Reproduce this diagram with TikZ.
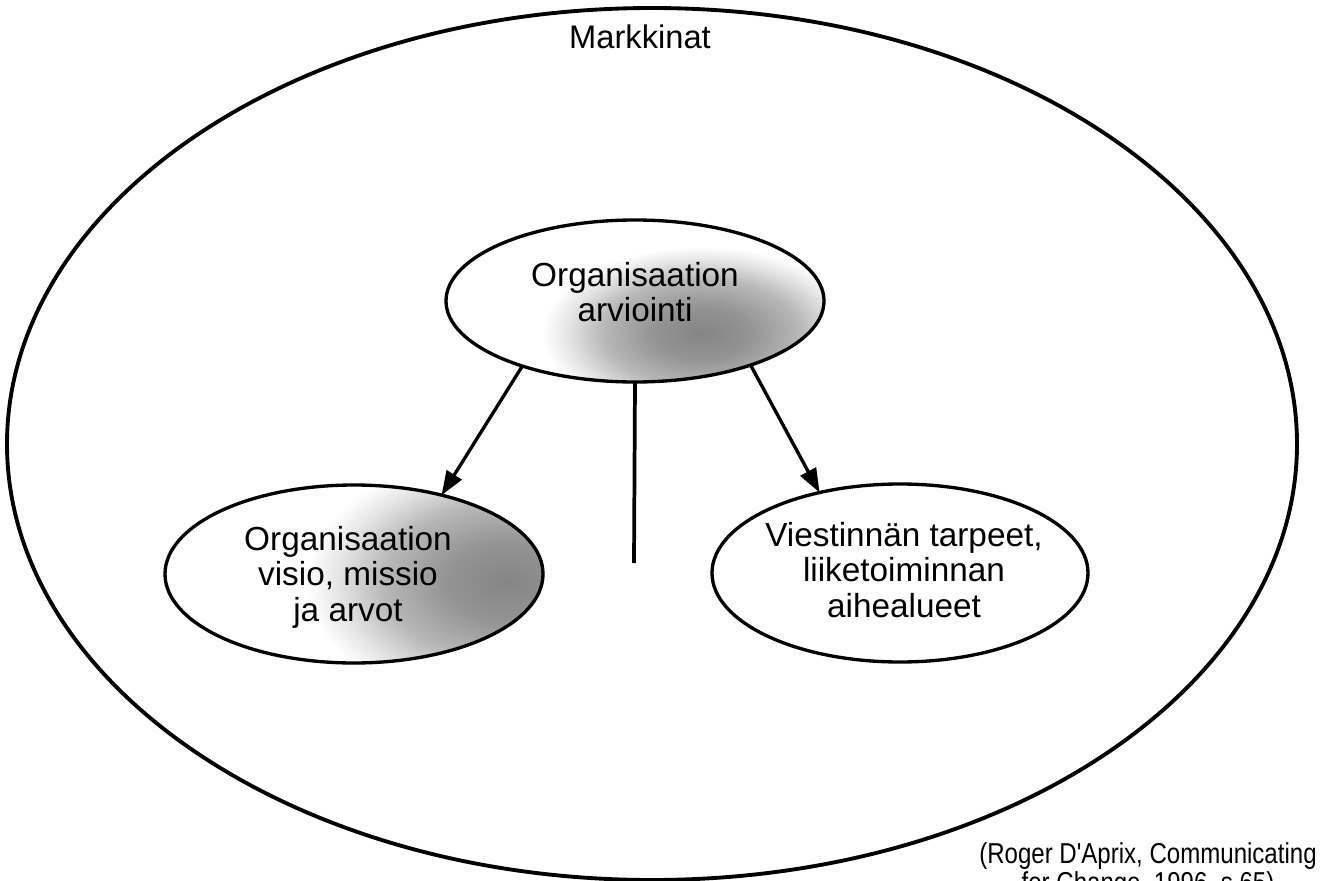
\documentclass[tikz,border=0pt]{standalone}
\usepackage{fontspec}
\setmainfont{Liberation Sans}
\newfontfamily\citefont[FakeStretch=0.835]{Liberation Sans}
\usetikzlibrary{shapes.geometric,arrows.meta}

% soft grey spot that has faded to white well inside its own outline
\pgfdeclareradialshading{greyspot}{\pgfpoint{0bp}{0bp}}{%
  color(0bp)=(black!48); color(4bp)=(black!42); color(8bp)=(black!28);
  color(11bp)=(black!10); color(13bp)=(white); color(50bp)=(white)}

\begin{document}
\begin{tikzpicture}[x=0.75pt,y=-0.75pt,
  bubble/.style={ellipse, draw=black, line width=2.5pt, inner sep=0pt, outer sep=0pt},
  bubbletext/.style={align=center, inner sep=0pt, anchor=north,
                     font=\fontsize{25}{26.6}\selectfont},
  link/.style={line width=2.5pt, -{Triangle[length=18pt,width=13pt]}},
]
\useasboundingbox (0,0) rectangle (1325,881);
\fill[white] (0,0) rectangle (1325,881);

% the market as the surrounding field
\node[ellipse, draw=black, line width=2.9pt, inner sep=0pt, outer sep=0pt,
      minimum width=967.5pt, minimum height=654pt] (market) at (652,444) {};
\node[anchor=base, inner sep=0pt, font=\fontsize{24.5}{26}\selectfont]
      (marketlabel) at (640,49) {Markkinat};

% the three bubbles, two of them with a soft grey spot
\node[bubble, minimum width=283.5pt, minimum height=121.5pt,
      path picture={\shade[shading=greyspot]
        ([shift={(50pt,-24pt)}]path picture bounding box.center) ellipse (230pt and 125pt);}]
      (assess) at (635,301) {};
\node[bubble, minimum width=283.5pt, minimum height=133.5pt,
      path picture={\shade[shading=greyspot]
        ([shift={(115pt,-6pt)}]path picture bounding box.center) ellipse (290pt and 185pt);}]
      (vision) at (354,574) {};
\node[bubble, minimum width=282pt, minimum height=133.5pt] (needs) at (900,573) {};

\node[bubbletext] (assesslabel) at (635,262) {Organisaation\\arviointi};
\node[bubbletext] (visionlabel) at (348,526) {Organisaation\\visio, missio\\ja arvot};
\node[bubbletext] (needslabel)  at (904,522) {Viestinnän tarpeet,\\liiketoiminnan\\aihealueet};

% connectors
\coordinate (stemend) at (634,563);
\draw[link] (assess.210) -- (vision.42);
\draw[link] (assess.331.5) -- (needs.135);
\draw[line width=2.8pt] (assess.south) -- (stemend);

% source
\node[anchor=north, align=center, inner sep=0pt,
      font=\citefont\fontsize{21.6}{21.75}\selectfont]
      (source) at (1148,842) {(Roger D'Aprix, Communicating\\for Change, 1996, s.65)};
\end{tikzpicture}
\end{document}
